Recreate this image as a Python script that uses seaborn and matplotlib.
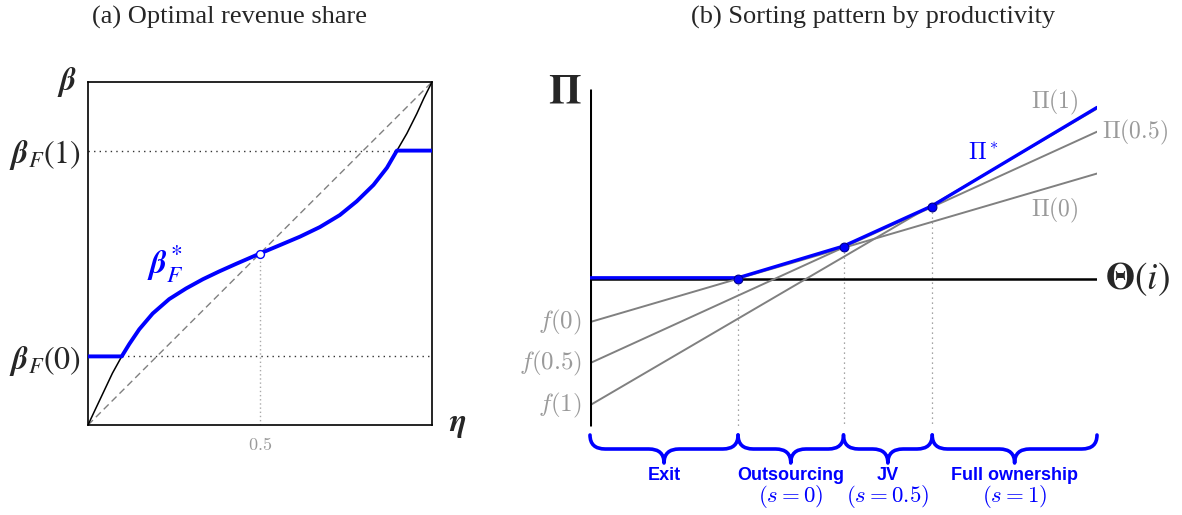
import numpy as np
import pandas as pd
import matplotlib
matplotlib.use("Agg")
import matplotlib.pyplot as plt
import matplotlib.transforms as mtrans
import seaborn as sns
from matplotlib.path import Path
from matplotlib.patches import PathPatch

sns.set_theme(style="white")
plt.rcParams['font.family'] = ['DejaVu Sans']
plt.rcParams['mathtext.fontset'] = 'cm'

# ---------------- data: panel (a) ----------------
eta = [0, 0.022, 0.047, 0.071, 0.098, 0.120, 0.149, 0.188, 0.236, 0.285, 0.334, 0.382,
       0.431, 0.5, 0.557, 0.616, 0.674, 0.732, 0.781, 0.830, 0.869, 0.898, 0.927,
       0.956, 0.976, 1.0]
beta_F = [0, 0.047, 0.100, 0.151, 0.2, 0.236, 0.279, 0.325, 0.367, 0.398, 0.425, 0.448,
          0.470, 0.5, 0.524, 0.549, 0.577, 0.612, 0.652, 0.700, 0.750, 0.8, 0.850,
          0.908, 0.952, 1.0]
beta_F0 = 0.2
beta_F1 = 0.8
eta_F0 = 0.098   # where beta_F crosses beta_F(0)
eta_F1 = 0.898   # where beta_F crosses beta_F(1)
eta_mid = 0.5

# ---------------- data: panel (b) ----------------
s_values = ["0", "0.5", "1"]
f_intercepts = [-0.85, -1.66, -2.49]      # f(s) at Theta = 0
pi_end = [2.08, 2.905, 3.36]              # Pi(s) at right end
theta_max = 10.0
cutoffs = [2.92, 5.0, 6.75]
pi_star_x = [0, 2.92, 5.0, 6.75, 10.0]
pi_star_y = [0, 0, 0.625, 1.42, 3.36]
regions = ["Exit", "Outsourcing", "JV", "Full ownership"]
region_s = ["", r"$\mathbf{(}s=0\mathbf{)}$", r"$\mathbf{(}s=0.5\mathbf{)}$", r"$\mathbf{(}s=1\mathbf{)}$"]

BLUE = "#0000ff"
GRAY_LINE = "#808080"
GRAY_TXT = "#9a9a9a"

W, H = 1182, 515
fig = plt.figure(figsize=(W / 100, H / 100), dpi=100)

# ================= panel (a) =================
axa = fig.add_axes([88 / W, (H - 425) / H, 344 / W, 343 / H])
axa.set_xlim(0, 1)
axa.set_ylim(0, 1)
df_a = pd.DataFrame({"eta": eta, "beta": beta_F})
df_a["beta_star"] = np.clip(df_a["beta"], beta_F0, beta_F1)

axa.plot([0, 1], [0, 1], color=GRAY_LINE, lw=1.0, ls=(0, (5, 3)), zorder=1)
axa.plot([0, eta_F1], [beta_F1, beta_F1], color="#333333", lw=1.0, ls=(0, (1, 3)), zorder=1)
axa.plot([eta_F0, 1], [beta_F0, beta_F0], color="#333333", lw=1.0, ls=(0, (1, 3)), zorder=1)
axa.plot([eta_mid, eta_mid], [0, 0.5], color="#aaaaaa", lw=1.0, ls=(0, (1, 2)), zorder=1)
sns.lineplot(data=df_a, x="eta", y="beta", ax=axa, color="black", lw=1.1,
             estimator=None, sort=False, zorder=2)
sns.lineplot(data=df_a, x="eta", y="beta_star", ax=axa, color=BLUE, lw=2.8,
             estimator=None, sort=False, zorder=3)
axa.scatter([eta_mid], [0.5], s=32, facecolor="white", edgecolor=BLUE, lw=1.0, zorder=5)

for sp in axa.spines.values():
    sp.set_visible(True)
    sp.set_color("black")
    sp.set_linewidth(1.2)
axa.set_xticks([eta_mid])
axa.set_xticklabels([r"$0.5$"], color=GRAY_TXT, fontsize=13)
axa.set_yticks([beta_F0, beta_F1])
axa.set_yticklabels([r"$\mathbfit{\beta}_F(0)$", r"$\mathbfit{\beta}_F(1)$"], fontsize=23)
for t in axa.get_yticklabels():
    t.set_math_fontfamily("stix")
axa.tick_params(axis="x", length=0, pad=8)
axa.tick_params(axis="y", length=0, pad=5)
axa.set_xlabel("")
axa.set_ylabel("")
axa.text(-0.06, 1.0, r"$\mathbfit{\beta}$", fontsize=23, ha="center", va="center", math_fontfamily="stix")
axa.text(1.076, 0.0, r"$\mathbfit{\eta}$", fontsize=23, ha="center", va="center", math_fontfamily="stix")
axa.text(0.225, 0.47, r"$\mathbfit{\beta}^*_F$", fontsize=24, color=BLUE, ha="center", va="center",
         math_fontfamily="stix")

# ================= panel (b) =================
px_per_unit = 50.7
ylo, yhi = -3.8, 3.8
top_px = 279 - yhi * px_per_unit
bot_px = 279 - ylo * px_per_unit
axb = fig.add_axes([590 / W, (H - bot_px) / H, 507 / W, (bot_px - top_px) / H])
axb.set_xlim(0, theta_max)
axb.set_ylim(ylo, yhi)
axb.axis("off")

y_axis_bottom = -2.9
axb.plot([0, 0], [y_axis_bottom, 3.75], color="black", lw=2.2, solid_capstyle="butt", zorder=4)
axb.plot([0, theta_max], [0, 0], color="black", lw=1.8, zorder=2)

rows = []
for s, f0, fe in zip(s_values, f_intercepts, pi_end):
    rows.append({"s": s, "theta": 0.0, "pi": f0})
    rows.append({"s": s, "theta": theta_max, "pi": fe})
df_b = pd.DataFrame(rows)
sns.lineplot(data=df_b, x="theta", y="pi", units="s", estimator=None, ax=axb,
             color=GRAY_LINE, lw=1.4, zorder=3)

for c, py in zip(cutoffs, pi_star_y[1:4]):
    axb.plot([c, c], [py, y_axis_bottom], color="#888888", lw=0.9, ls=(0, (1, 3)), zorder=1)

off = mtrans.offset_copy(axb.transData, fig=fig, x=0, y=1.2, units="dots")
axb.plot(pi_star_x, pi_star_y, color=BLUE, lw=2.4, zorder=5, transform=off)
sns.scatterplot(x=cutoffs, y=pi_star_y[1:4], ax=axb, color=BLUE, edgecolor="#00008b",
                s=40, linewidth=0.8, zorder=6)

axb.text(-0.49, 3.69, r"$\mathbf{\Pi}$", fontsize=30, ha="center", va="center", math_fontfamily="stix")
axb.text(10.8, 0.0, r"$\mathbf{\Theta}(i)$", fontsize=27, ha="center", va="center", math_fontfamily="stix")
for s, f0 in zip(s_values, f_intercepts):
    axb.text(-0.16, f0, r"$f(%s)$" % s, fontsize=18, color=GRAY_TXT, ha="right", va="center")
axb.text(9.17, 3.49, r"$\Pi(1)$", fontsize=17, color=GRAY_TXT, ha="center", va="center")
axb.text(10.75, 2.9, r"$\Pi(0.5)$", fontsize=17, color=GRAY_TXT, ha="center", va="center")
axb.text(9.17, 1.36, r"$\Pi(0)$", fontsize=17, color=GRAY_TXT, ha="center", va="center")
axb.text(7.75, 2.5, r"$\Pi^*$", fontsize=17, color=BLUE, ha="center", va="center")

bounds = [0] + cutoffs + [theta_max]
y_top, y_mid, y_tip = (279 - 435) / px_per_unit, (279 - 449) / px_per_unit, (279 - 463) / px_per_unit
r = 0.3
for x0, x1, name, lab in zip(bounds[:-1], bounds[1:], regions, region_s):
    xm = (x0 + x1) / 2
    verts = [(x0, y_top), (x0, y_mid), (x0 + r, y_mid),
             (xm - r, y_mid), (xm, y_mid), (xm, y_tip),
             (xm, y_mid), (xm + r, y_mid),
             (x1 - r, y_mid), (x1, y_mid), (x1, y_top)]
    codes = [Path.MOVETO, Path.CURVE3, Path.CURVE3,
             Path.LINETO, Path.CURVE3, Path.CURVE3,
             Path.CURVE3, Path.CURVE3,
             Path.LINETO, Path.CURVE3, Path.CURVE3]
    axb.add_patch(PathPatch(Path(verts, codes), facecolor="none", edgecolor=BLUE, lw=2.6,
                            clip_on=False, capstyle="round", joinstyle="round"))
    axb.text(xm, (279 - 476) / px_per_unit, name, fontsize=13, fontweight="bold", color=BLUE,
             family="Liberation Sans", ha="center", va="center", clip_on=False)
    if lab:
        axb.text(xm, (279 - 497) / px_per_unit, lab, fontsize=16.5, color=BLUE,
                 ha="center", va="center", clip_on=False)

fig.text(230 / W, 1 - 17 / H, "(a) Optimal revenue share", family="Liberation Serif",
         fontsize=19, ha="center", va="center")
fig.text(873 / W, 1 - 17 / H, "(b) Sorting pattern by productivity", family="Liberation Serif",
         fontsize=19, ha="center", va="center")

fig.savefig("out.png", dpi=100)
